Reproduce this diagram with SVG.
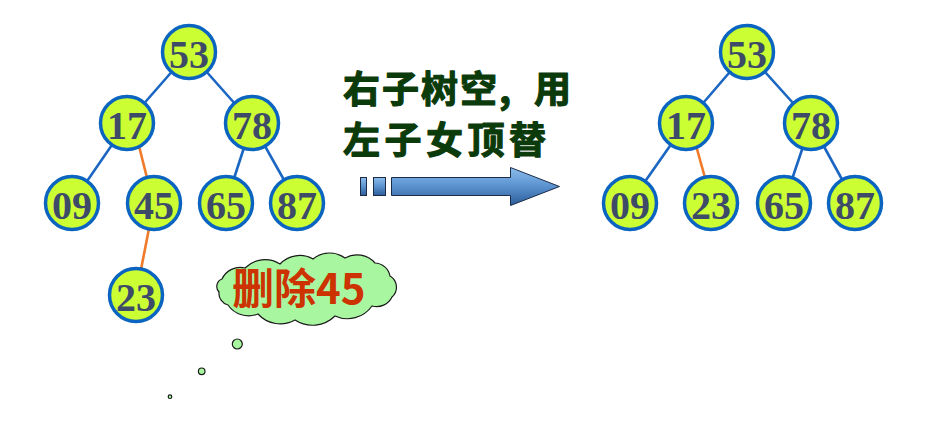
<svg xmlns="http://www.w3.org/2000/svg" width="925" height="448" viewBox="0 0 925 448">
<style>
.n circle{fill:#ccff33;stroke:#0a64c0;stroke-width:3.5}
.n text{font-family:"Liberation Serif",serif;font-weight:bold;font-size:40px;fill:#3d4b68;text-anchor:middle}
.e line{stroke:#1a66c2;stroke-width:2.6}
.e line.o{stroke:#f07a2a}
.cap{font-family:"Noto Sans CJK SC",sans-serif;font-weight:bold;font-size:37px;fill:#0b3b0b;stroke:#0b3b0b;stroke-width:1.2;stroke-linejoin:round}
.bub{fill:#a8f7a0;stroke:#1a1a1a;stroke-width:1.2}
</style>
<defs>
<linearGradient id="ag" x1="0" y1="0" x2="0" y2="1">
<stop offset="0" stop-color="#8cbdec"/>
<stop offset="0.5" stop-color="#5a92cf"/>
<stop offset="1" stop-color="#2c5c98"/>
</linearGradient>
</defs>
<g id="connectors" class="e">
<line x1="189" y1="52" x2="127" y2="123"/>
<line x1="189" y1="52" x2="252" y2="123"/>
<line x1="127" y1="123" x2="72" y2="203"/>
<line class="o" x1="137.5" y1="140" x2="148.8" y2="185"/>
<line x1="252" y1="123" x2="226" y2="203"/>
<line x1="252" y1="123" x2="297" y2="203"/>
<line class="o" x1="154" y1="203" x2="136" y2="295"/>
<line x1="747" y1="52" x2="686" y2="123"/>
<line x1="747" y1="52" x2="811" y2="123"/>
<line x1="686" y1="123" x2="630" y2="203"/>
<line class="o" x1="694.5" y1="140" x2="707" y2="185"/>
<line x1="811" y1="123" x2="784" y2="203"/>
<line x1="811" y1="123" x2="855" y2="203"/>
</g>
<g id="L53" class="n"><circle cx="189" cy="52" r="26.5"/><text x="189" y="67.5">53</text></g>
<g id="L17" class="n"><circle cx="127" cy="123" r="26.5"/><text x="127" y="138.5">17</text></g>
<g id="L78" class="n"><circle cx="252" cy="123" r="26.5"/><text x="252" y="138.5">78</text></g>
<g id="L09" class="n"><circle cx="72" cy="203" r="26.5"/><text x="72" y="218.5">09</text></g>
<g id="L45" class="n"><circle cx="154" cy="203" r="26.5"/><text x="154" y="218.5">45</text></g>
<g id="L65" class="n"><circle cx="226" cy="203" r="26.5"/><text x="226" y="218.5">65</text></g>
<g id="L87" class="n"><circle cx="297" cy="203" r="26.5"/><text x="297" y="218.5">87</text></g>
<g id="L23" class="n"><circle cx="136" cy="295" r="26.5"/><text x="136" y="310.5">23</text></g>
<g id="R53" class="n"><circle cx="747" cy="52" r="26.5"/><text x="747" y="67.5">53</text></g>
<g id="R17" class="n"><circle cx="686" cy="123" r="26.5"/><text x="686" y="138.5">17</text></g>
<g id="R78" class="n"><circle cx="811" cy="123" r="26.5"/><text x="811" y="138.5">78</text></g>
<g id="R09" class="n"><circle cx="630" cy="203" r="26.5"/><text x="630" y="218.5">09</text></g>
<g id="R23" class="n"><circle cx="711" cy="203" r="26.5"/><text x="711" y="218.5">23</text></g>
<g id="R65" class="n"><circle cx="784" cy="203" r="26.5"/><text x="784" y="218.5">65</text></g>
<g id="R87" class="n"><circle cx="855" cy="203" r="26.5"/><text x="855" y="218.5">87</text></g>
<g id="caption">
<text class="cap" x="343" y="103" letter-spacing="2">右子树空, <tspan x="534" letter-spacing="0">用</tspan></text>
<text class="cap" x="343" y="153.5" letter-spacing="4.5">左子女顶替</text>
</g>
<g id="arrow" fill="url(#ag)" stroke="#1b2b48" stroke-width="1">
<rect x="360.5" y="177.5" width="6" height="18"/>
<rect x="373.5" y="177.5" width="12" height="18"/>
<path d="M391.5 177.5 H510.5 V167.5 L559.5 186.5 L510.5 205.5 V195.5 H391.5 Z"/>
</g>
<g id="cloud">
<path class="bub" d="M222 279 A20 20 0 0 1 245 268 A28 28 0 0 1 280 264 A27 27 0 0 1 313 259 A26 26 0 0 1 345 258 A24 24 0 0 1 375 263 A16 16 0 0 1 390 276 A13 13 0 0 1 392 297 A17 17 0 0 1 372 306 A30 30 0 0 1 335 316 A32 32 0 0 1 295 320 A30 30 0 0 1 258 314 A25 25 0 0 1 228 305 A12 12 0 0 1 219 292 A8 8 0 0 1 222 279 Z"/>
<text x="232" y="304" font-family="'Noto Sans CJK SC',sans-serif" font-weight="bold" font-size="42" fill="#cc3300">删除45</text>
<circle class="bub" cx="237.3" cy="344" r="5"/>
<circle class="bub" cx="201.7" cy="371.3" r="3.3"/>
<circle class="bub" cx="170" cy="396.7" r="1.8"/>
</g>
</svg>
